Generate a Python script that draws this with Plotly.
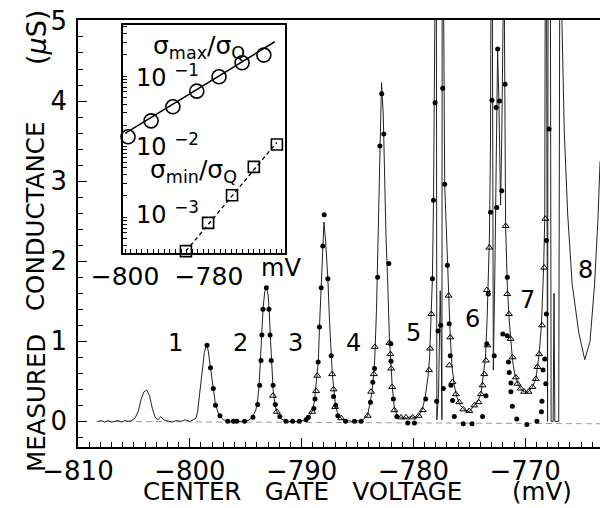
import plotly.graph_objects as go

# ---------------- data ----------------
# continuous conductance trace: gate voltage (mV), conductance (uS); values >5 are off-scale
trace_v = [-808.2, -807.9, -807.6, -807.3, -807.0, -806.7, -806.4, -806.1, -805.8, -805.5, -805.2,
           -804.9, -804.6, -804.35, -804.1, -803.85, -803.6, -803.35, -803.1, -802.85, -802.6, -802.35,
           -802.0, -801.6, -801.2, -800.8, -800.4, -800.0, -799.7, -799.45, -799.3, -799.1, -798.9,
           -798.7, -798.5, -798.35, -798.15, -797.9, -797.7, -797.4, -797.0, -796.5, -795.5, -794.8,
           -794.4, -794.1, -793.95, -793.8, -793.7, -793.57, -793.45, -793.3, -793.15, -793.0, -792.9,
           -792.8, -792.7, -792.55, -792.35, -792.1, -791.8, -791.3, -790.5, -789.8, -789.4, -789.05,
           -788.85, -788.65, -788.5, -788.4, -788.25, -788.1, -788.0, -787.85, -787.65, -787.5, -787.35,
           -787.25, -787.1, -786.95, -786.7, -786.3, -785.5, -784.6, -784.1, -783.85, -783.7, -783.55,
           -783.45, -783.3, -783.15, -783.0, -782.85, -782.7, -782.6, -782.45, -782.3, -782.15, -782.0,
           -781.9, -781.7, -781.4, -781.0, -780.6, -780.2, -779.8, -779.5, -779.2, -778.95, -778.7,
           -778.55, -778.4, -778.3, -778.2, -778.1, -778.03, -777.95, -777.9, -777.75, -777.6, -777.5,
           -777.45, -777.42, -777.33, -777.2, -776.96, -776.85, -776.7, -776.55, -776.35, -776.1, -775.8,
           -775.4, -775.0, -774.55, -774.2, -773.95, -773.75, -773.55, -773.4, -773.3, -773.2, -773.1,
           -773.05, -772.95, -772.85, -772.7, -772.55, -772.47, -772.35, -772.2, -772.1, -772.05, -771.9,
           -771.75, -771.6, -771.45, -771.3, -771.13, -770.95, -770.8, -770.6, -770.4, -770.1, -769.7,
           -769.35, -769.05, -768.9, -768.75, -768.55, -768.35, -768.25, -768.2, -768.1, -768.0, -767.95,
           -767.75, -767.68, -767.5, -767.42, -767.35, -767.0, -766.9, -766.85, -766.7, -766.5, -766.2,
           -765.8, -765.2, -764.67, -764.2, -763.8, -763.5, -763.3]
trace_g = [0.00, 0.01, -0.01, 0.01, -0.01, 0.00, 0.01, -0.01, 0.01, 0.00, 0.01,
           0.04, 0.13, 0.28, 0.37, 0.39, 0.32, 0.16, 0.05, 0.02, 0.06, 0.02,
           0.01, -0.01, 0.01, 0.00, 0.02, 0.00, 0.02, 0.04, 0.12, 0.35, 0.62,
           0.86, 0.97, 0.88, 0.67, 0.41, 0.21, 0.08, 0.02, 0.00, 0.00, 0.01,
           0.05, 0.14, 0.24, 0.45, 0.76, 1.08, 1.40, 1.62, 1.67, 1.58, 1.40,
           1.08, 0.76, 0.40, 0.18, 0.08, 0.03, 0.00, 0.00, 0.01, 0.05, 0.13,
           0.25, 0.50, 0.76, 1.18, 1.67, 2.19, 2.49, 2.25, 1.78, 1.25, 0.82,
           0.59, 0.38, 0.18, 0.07, 0.02, 0.00, 0.01, 0.07, 0.24, 0.37, 0.59,
           0.80, 1.40, 2.40, 3.45, 4.23, 3.85, 3.20, 2.30, 1.75, 1.05, 0.70,
           0.45, 0.16, 0.06, 0.05, 0.04, 0.06, 0.04, 0.08, 0.15, 0.30, 0.55,
           0.80, 1.34, 1.78, 2.76, 4.00, 6.00, 6.00, 0.02, 0.35, 1.63, 0.90,
           0.02, 6.00, 6.00, 2.96, 1.95, 1.57, 1.05, 0.70, 0.45, 0.30, 0.20,
           0.14, 0.12, 0.20, 0.26, 0.35, 0.55, 0.80, 1.30, 1.90, 2.30, 3.50,
           6.00, 6.00, 0.64, 2.00, 4.00, 4.62, 4.00, 2.70, 3.50, 6.00, 6.00,
           2.44, 1.70, 1.30, 1.00, 0.76, 0.60, 0.52, 0.45, 0.41, 0.37, 0.37,
           0.43, 0.53, 0.68, 0.84, 1.20, 1.92, 2.53, 6.00, 6.00, 0.00, 6.00,
           6.00, 0.00, 0.00, 1.60, 0.00, 0.00, 6.00, 6.00, 4.90, 3.60, 2.59,
           1.72, 1.10, 0.77, 1.00, 1.70, 2.50, 3.25]

# filled dots
dot_v = [-798.46, -798.15, -797.9, -797.7, -797.3, -796.6, -796.1, -795.8, -795.1, -794.35, -793.93,
         -793.75, -793.63, -793.55, -793.45, -793.15, -792.92, -792.82, -792.72, -792.55, -792.35,
         -791.95, -791.4, -790.8, -790.2, -789.6, -789.4, -788.9, -788.8, -788.52, -788.4, -788.25,
         -788.1, -787.98, -787.65, -787.35, -787.14, -786.95, -786.76, -786.07, -785.27, -784.67,
         -783.84, -783.63, -783.48, -783.2, -783.0, -782.83, -782.65, -782.2, -782.02, -782.0, -781.79,
         -781.49, -780.51, -779.91, -778.9, -778.3, -778.2, -778.06, -777.92, -777.8, -777.55, -777.38,
         -777.32, -777.2, -776.96, -776.8, -776.7, -776.64, -776.5, -776.34, -775.54, -774.76, -773.81,
         -773.51, -773.43, -773.3, -773.1, -772.97, -772.77, -772.6, -772.55, -772.46, -772.3, -772.1,
         -772.0, -771.8, -771.6, -771.6, -771.5, -771.43, -771.28, -771.28, -771.15, -770.75, -769.85,
         -768.95, -768.55, -768.5, -768.4, -768.25, -768.16, -768.1, -768.1, -767.86]
dot_g = [0.95, 0.67, 0.41, 0.20, 0.07, 0.00, 0.00, 0.00, 0.00, 0.05, 0.21,
         0.45, 0.76, 1.08, 1.40, 1.67, 1.40, 1.08, 0.76, 0.45, 0.21,
         0.06, 0.00, 0.00, 0.00, 0.02, 0.05, 0.16, 0.28, 0.74, 1.18, 1.67,
         2.19, 2.58, 1.78, 0.82, 0.31, 0.20, 0.07, 0.00, 0.00, 0.00,
         0.24, 0.49, 0.66, 1.80, 3.44, 4.09, 3.59, 1.97, 0.97, 0.75, 0.28,
         0.06, -0.02, -0.02, 0.28, 1.78, 2.76, 3.98, 0.25, 1.13, 1.20, 4.16,
         0.41, 2.96, 1.95, 1.22, 0.82, 0.45, 0.26, 0.06, -0.03, -0.03, 0.06,
         0.32, 0.97, 1.59, 2.61, 4.01, 0.82, 3.92, 2.67, 4.65, 4.00, 2.88,
         1.09, 4.21, 1.80, 1.07, 0.74, 0.61, 0.48, 0.37, 0.19, 0.03, -0.04,
         0.00, 0.12, 0.25, 0.64, 0.78, 0.47, 1.34, 2.26, 3.65]

# open triangles
tri_v = [-792.56, -792.22, -789.05, -788.7, -788.6, -787.27, -787.14, -787.0, -786.46, -784.08,
         -783.78, -783.54, -783.45, -782.14, -782.05, -781.99, -781.9, -781.7, -781.1, -780.66,
         -780.06, -779.53, -779.17, -778.6, -778.5, -778.4, -776.85, -776.79, -776.7, -776.5,
         -776.2, -775.9, -775.54, -775.0, -774.55, -774.17, -773.96, -773.81, -773.66, -773.51,
         -773.37, -773.43, -773.21, -771.75, -771.6, -771.45, -771.3, -771.13, -770.84, -770.69,
         -770.4, -770.09, -769.7, -769.35, -769.05, -768.9, -768.75, -768.5, -768.3, -768.2]
tri_g = [0.32, 0.12, 0.12, 0.38, 0.57, 0.59, 0.40, 0.18, 0.04, 0.07,
         0.37, 0.59, 0.93, 0.98, 0.84, 0.66, 0.43, 0.14, 0.05, 0.05,
         0.05, 0.07, 0.14, 0.64, 0.91, 1.34, 1.57, 0.70, 1.05, 0.49,
         0.34, 0.24, 0.15, 0.13, 0.20, 0.24, 0.34, 0.45, 0.59, 0.76,
         0.95, 1.64, 2.17, 2.44, 1.59, 1.34, 1.03, 0.80, 0.55, 0.47,
         0.41, 0.37, 0.37, 0.43, 0.53, 0.68, 0.84, 1.20, 1.92, 2.53]

# zero reference line
base_v = [-808.4, -763.2]
base_g = [0.0, -0.03]

# inset: normalized peak and valley conductance vs gate voltage
max_v = [-799.3, -793.8, -788.6, -782.9, -777.6, -772.1, -766.9]
max_s = [0.0138, 0.0232, 0.0367, 0.0612, 0.0977, 0.1545, 0.1986]
min_v = [-785.5, -780.2, -774.5, -769.3, -763.8]
min_s = [3.3e-4, 8.3e-4, 2.05e-3, 5.16e-3, 1.07e-2]
fitmax_v = [-800.0, -764.3]
fitmax_s = [0.01538, 0.307]
fitmin_v = [-785.5, -763.8]
fitmin_s = [3.3e-4, 1.15e-2]

x_ticks_main = [-810, -800, -790, -780, -770]
y_ticks_main = [0, 1, 2, 3, 4, 5]
inset_x_ticks = [-800, -780]
peak_labels = ["1", "2", "3", "4", "5", "6", "7", "8"]

# ---------------- figure ----------------
FONT = "DejaVu Sans"
OFF = 8  # page body margin of the browser
NB = "\u00a0"
fig = go.Figure()

fig.add_trace(go.Scatter(x=base_v, y=base_g, mode="lines",
                         line=dict(color="#9a9a9a", width=1, dash="6px,4px"),
                         xaxis="x", yaxis="y", hoverinfo="skip"))
fig.add_trace(go.Scatter(x=trace_v, y=trace_g, mode="lines",
                         line=dict(color="#222222", width=1),
                         xaxis="x", yaxis="y"))
fig.add_trace(go.Scatter(x=tri_v, y=tri_g, mode="markers",
                         marker=dict(symbol="triangle-up-open", size=6, color="black",
                                     line=dict(width=1)),
                         xaxis="x", yaxis="y"))
fig.add_trace(go.Scatter(x=dot_v, y=dot_g, mode="markers",
                         marker=dict(symbol="circle", size=5, color="black"),
                         xaxis="x", yaxis="y"))

# inset
fig.add_trace(go.Scatter(x=fitmax_v, y=fitmax_s, mode="lines",
                         line=dict(color="black", width=1.5), xaxis="x2", yaxis="y2"))
fig.add_trace(go.Scatter(x=fitmin_v, y=fitmin_s, mode="lines",
                         line=dict(color="black", width=1.3, dash="4px,3px"),
                         xaxis="x2", yaxis="y2"))
fig.add_trace(go.Scatter(x=max_v, y=max_s, mode="markers",
                         marker=dict(symbol="circle-open", size=14, color="black",
                                     line=dict(width=1.6)),
                         xaxis="x2", yaxis="y2", cliponaxis=False))
fig.add_trace(go.Scatter(x=min_v, y=min_s, mode="markers",
                         marker=dict(symbol="square-open", size=11, color="black",
                                     line=dict(width=1.6)),
                         xaxis="x2", yaxis="y2", cliponaxis=False))

axis_common = dict(showline=True, linecolor="black", linewidth=1.6, mirror=True,
                   showgrid=False, zeroline=False, ticks="inside", tickcolor="black",
                   ticklabeloverflow="allow",
                   tickfont=dict(family=FONT, size=26, color="black"))

fig.update_layout(
    width=608 - OFF, height=508 - OFF,
    margin=dict(l=78 - OFF, r=5, t=20 - OFF, b=61, autoexpand=False),
    paper_bgcolor="white", plot_bgcolor="white",
    showlegend=False,
    font=dict(family=FONT, color="black"),
    xaxis=dict(axis_common, range=[-810, -763.04], tickmode="array", tickvals=x_ticks_main,
               ticklen=9, tickwidth=1.2,
               minor=dict(ticks="inside", dtick=1, tick0=-810, ticklen=5, tickcolor="black",
                          tickwidth=1)),
    yaxis=dict(axis_common, range=[-0.32, 5.012], tickmode="array", tickvals=y_ticks_main,
               ticklen=9, tickwidth=1.2, ticklabelstandoff=4,
               minor=dict(ticks="inside", dtick=0.2, tick0=0, ticklen=5, tickcolor="black",
                          tickwidth=1)),
    xaxis2=dict(axis_common, domain=[0.0857, 0.394], anchor="y2",
                range=[-800.5, -761.9], tickmode="array", tickvals=inset_x_ticks,
                ticklen=4, tickwidth=1,
                tickfont=dict(family=FONT, size=25, color="black"),
                minor=dict(ticks="inside", tick0=-800, dtick=4/3, ticklen=4,
                           tickcolor="black", tickwidth=1)),
    yaxis2=dict(axis_common, domain=[0.454, 0.988], anchor="x2", type="log",
                range=[-3.51, -0.277], dtick="D1", ticklen=4, tickwidth=1,
                showticklabels=False),
)

def px2paper(px, py):
    return (px - 78) / 525.0, (447 - py) / 427.0

annots = []
label_px = [(175, 343), (240, 343), (295, 343), (353, 343), (413, 333), (472, 319), (527, 300), (585, 270)]
for lab, (px, py) in zip(peak_labels, label_px):
    x, y = px2paper(px, py)
    annots.append(dict(text=lab, x=x, y=y, xref="paper", yref="paper", showarrow=False,
                       xanchor="center", yanchor="middle",
                       font=dict(family=FONT, size=24, color="black")))

def add_text(text, px, py, size=24, xanchor="center", angle=0):
    x, y = px2paper(px, py)
    annots.append(dict(text=text, x=x, y=y, xref="paper", yref="paper", showarrow=False,
                       xanchor=xanchor, yanchor="middle", textangle=angle,
                       font=dict(family=FONT, size=size, color="black")))

add_text("σ<sub>max</sub>/σ<sub>Q</sub>", 199, 47, size=25)
add_text("σ<sub>min</sub>/σ<sub>Q</sub>", 193, 171, size=25)
add_text("10 <sup>−1</sup>", 134, 76, size=24, xanchor="left")
add_text("10 <sup>−2</sup>", 134, 145, size=24, xanchor="left")
add_text("10 <sup>−3</sup>", 134, 213, size=24, xanchor="left")
add_text("mV", 281, 268, size=24)
# y-axis title, word by word (wide spacing as in the original)
add_text("MEASURED", 36, 403, size=24.5, angle=-90)
add_text("CONDUCTANCE", 36, 217, size=24.5, angle=-90)
add_text("(<i>μ</i>S)", 36, 38, size=27, angle=-90)
add_text("CENTER" + NB * 3 + "GATE" + NB * 3 + "VOLTAGE", 302, 491, size=24.5)
add_text("(mV)", 542, 491, size=24.5)

fig.update_layout(annotations=annots)
fig.write_html("out.html")
